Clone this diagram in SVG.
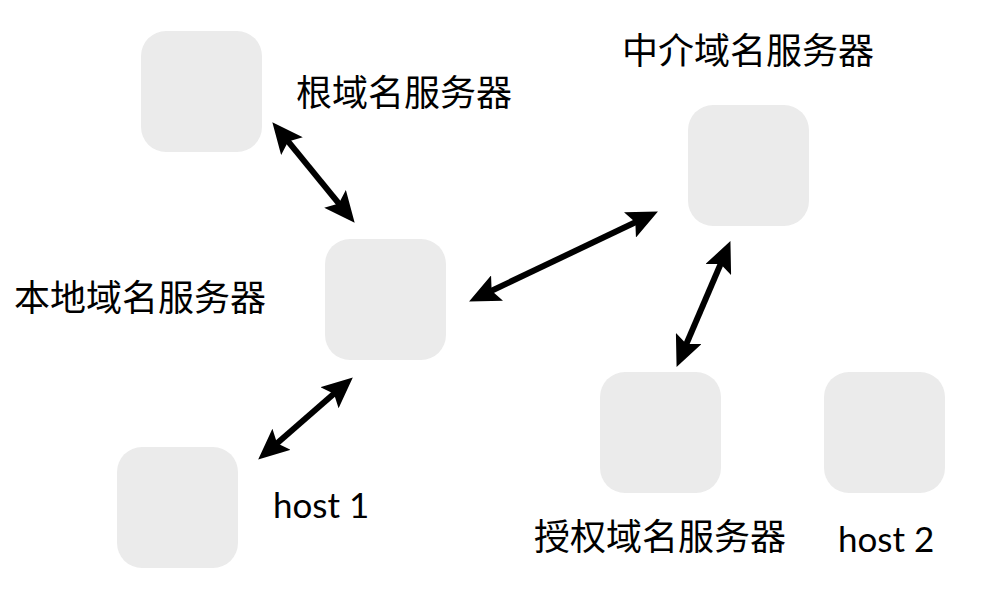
<svg xmlns="http://www.w3.org/2000/svg" width="1000" height="600" viewBox="0 0 1000 600">
<defs>
<style>
.box{fill:#ebebeb;}
.lbl{font-family:"Noto Sans CJK SC","Liberation Sans",sans-serif;font-size:36px;fill:#000;}
.en{font-family:"Lato","Liberation Sans",sans-serif;font-size:35px;fill:#000;}
.conn line{stroke:#000;stroke-width:6;marker-start:url(#ah);marker-end:url(#ah);}
</style>
<marker id="ah" markerUnits="userSpaceOnUse" viewBox="0 0 32 28" refX="20" refY="14" markerWidth="32" markerHeight="28" orient="auto-start-reverse">
<path d="M0,0 L31,14 L0,28 L6,14 Z" fill="#000"/>
</marker>
</defs>
<rect width="1000" height="600" fill="#fff"/>
<g id="root"><rect class="box" x="141" y="31" width="121" height="121" rx="25"/><text class="lbl" x="296" y="106">根域名服务器</text></g>
<g id="local"><rect class="box" x="325" y="239" width="121" height="121" rx="25"/><text class="lbl" x="14" y="311">本地域名服务器</text></g>
<g id="intermediate"><rect class="box" x="688" y="105" width="121" height="121" rx="25"/><text class="lbl" x="622" y="64">中介域名服务器</text></g>
<g id="authoritative"><rect class="box" x="600" y="372" width="121" height="121" rx="25"/><text class="lbl" x="534" y="550">授权域名服务器</text></g>
<g id="host1"><rect class="box" x="117" y="447" width="121" height="121" rx="25"/><text class="en" x="273" y="518">host 1</text></g>
<g id="host2"><rect class="box" x="824" y="372" width="121" height="121" rx="25"/><text class="en" x="838" y="552">host 2</text></g>
<g id="connectors" class="conn">
<line x1="279.3" y1="130.7" x2="347.7" y2="214.3"/>
<line x1="479" y1="296.7" x2="648" y2="216.3"/>
<line x1="726.1" y1="251.2" x2="680.9" y2="356.8"/>
<line x1="344.5" y1="384.6" x2="266.5" y2="452.4"/>
</g>
</svg>
